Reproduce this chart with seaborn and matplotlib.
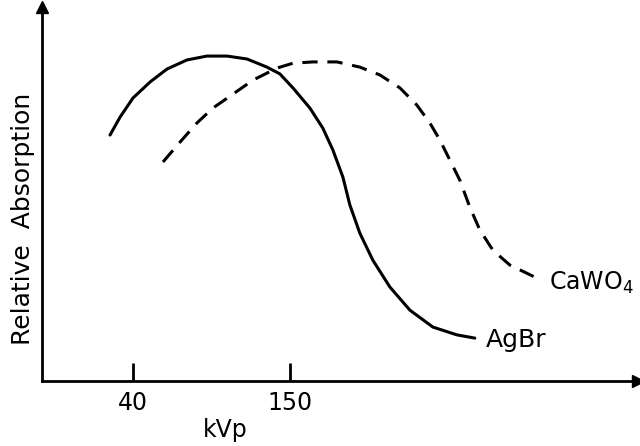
import matplotlib
matplotlib.use("Agg")
import matplotlib.pyplot as plt
import seaborn as sns

# values (kVp vs relative absorption, arbitrary units)
agbr_kvp = [23.9, 30.9, 40.0, 51.9, 63.8, 77.8, 91.8, 105.9, 119.9, 133.9, 143.0,
            152.1, 164.0, 173.1, 180.1, 187.1, 192.0, 199.0, 208.1, 220.1, 234.1,
            250.2, 267.0, 279.6]
agbr_rel = [0.757, 0.812, 0.871, 0.920, 0.960, 0.988, 1.000, 1.000, 0.991, 0.966, 0.945,
            0.902, 0.840, 0.778, 0.711, 0.628, 0.542, 0.455, 0.372, 0.289, 0.218,
            0.166, 0.142, 0.132]

cawo4_kvp = [61.0, 72.9, 84.8, 96.0, 110.1, 124.1, 140.9, 152.1, 166.1, 182.9, 199.0,
             213.0, 227.1, 239.0, 248.1, 255.1, 269.1, 276.1, 283.1, 292.2, 304.1, 323.0]
cawo4_rel = [0.674, 0.735, 0.794, 0.840, 0.883, 0.926, 0.963, 0.978, 0.982, 0.982, 0.966,
             0.942, 0.902, 0.849, 0.794, 0.742, 0.618, 0.535, 0.465, 0.403, 0.357, 0.317]

tick_vals = [40, 150]
tick_labels = ["40", "150"]

sns.set_style("ticks")
plt.rcParams['font.family'] = ['DejaVu Sans']
plt.rcParams.update({"text.color": "black", "axes.labelcolor": "black",
                     "xtick.color": "black", "axes.edgecolor": "black"})

fig = plt.figure(figsize=(6.4, 4.46), dpi=100)
ax = fig.add_axes([42 / 640, 65 / 446, 596 / 640, 374 / 446])

sns.lineplot(x=agbr_kvp, y=agbr_rel, color="black", lw=2.2,
             solid_joinstyle="round", ax=ax)
sns.lineplot(x=cawo4_kvp, y=cawo4_rel, color="black", lw=2.2,
             linestyle=(0, (5, 3.2)), ax=ax)

ax.set_xlim(-23.8, 394)
ax.set_ylim(0, 1.151)

sns.despine(ax=ax)
for s in ["left", "bottom"]:
    ax.spines[s].set_linewidth(2)
ax.plot([0], [1], marker="^", ms=9, color="black", transform=ax.transAxes, clip_on=False)
ax.plot([1], [0], marker=">", ms=9, color="black", transform=ax.transAxes, clip_on=False)

ax.set_xticks(tick_vals)
ax.set_xticklabels(tick_labels)
ax.set_yticks([])
ax.tick_params(axis="x", direction="in", length=13, width=2, pad=7, labelsize=17)

ax.set_xlabel("kVp", fontsize=17, va="center")
ax.xaxis.set_label_coords(0.307, -0.131)
ax.set_ylabel("Relative  Absorption", fontsize=18, va="center")
ax.yaxis.set_label_coords(-0.032, 0.433)

ax.text(287.3, 0.126, "AgBr", fontsize=18, va="center", ha="left")
ax.text(331.5, 0.302, r"CaWO$_4$", fontsize=17, va="center", ha="left")

fig.savefig("out.png", dpi=100)
